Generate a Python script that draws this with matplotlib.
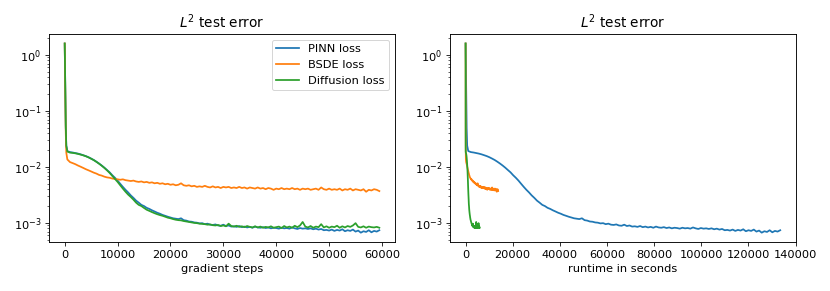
import matplotlib
matplotlib.use("Agg")
import matplotlib.pyplot as plt

# gradient steps at which the test error was logged
steps = [0, 100, 200, 300, 500] + list(range(1000, 60000, 500))

# L2 test error
pinn = [1.60, 0.30, 0.050, 0.024, 0.0192,
        0.0184, 0.0181, 0.0177, 0.0173, 0.0168, 0.0162, 0.0156, 0.0149, 0.0141, 0.0133,
        0.0124, 0.0115, 0.0106, 0.0097, 0.0088, 0.0080, 0.0071, 0.0064, 0.0057, 0.0050,
        0.0044, 0.0039, 0.0035, 0.0031, 0.0028, 0.0025, 0.0023, 0.0021, 0.00200, 0.00186,
        0.00178, 0.00168, 0.00160, 0.00152, 0.00146, 0.00139, 0.00134, 0.00129, 0.00125, 0.00121,
        0.00119, 0.00117, 0.00121, 0.00112, 0.00110, 0.00106, 0.00105, 0.00102, 0.00101, 0.00098,
        0.00099, 0.00095, 0.00097, 0.00093, 0.00092, 0.00094, 0.00090, 0.00089, 0.00093, 0.00088,
        0.00090, 0.00086, 0.00087, 0.00085, 0.00088, 0.00084, 0.00086, 0.00083, 0.00085, 0.00082,
        0.00086, 0.00083, 0.00082, 0.00084, 0.00081, 0.00083, 0.00080, 0.00082, 0.00081, 0.00079,
        0.00082, 0.00080, 0.00081, 0.00079, 0.00083, 0.00080, 0.00078, 0.00081, 0.00079, 0.00080,
        0.00078, 0.00080, 0.00077, 0.00079, 0.00076, 0.00078, 0.00074, 0.00075, 0.00073, 0.00076,
        0.00072, 0.00075, 0.00073, 0.00077, 0.00071, 0.00074, 0.00072, 0.00076, 0.00070, 0.00073,
        0.00067, 0.00071, 0.00069, 0.00074, 0.00068, 0.00072, 0.00070, 0.00074]

bsde = [1.60, 0.25, 0.040, 0.018, 0.0136,
        0.0122, 0.0117, 0.0112, 0.0106, 0.0101, 0.0096, 0.0091, 0.0087, 0.0083, 0.0079,
        0.0076, 0.0072, 0.0070, 0.0067, 0.0065, 0.0064, 0.0062, 0.0061, 0.0060, 0.0059,
        0.0060, 0.0058, 0.0057, 0.0056, 0.0057, 0.0055, 0.0054, 0.0055, 0.0053, 0.0054,
        0.0052, 0.0053, 0.0051, 0.0052, 0.0050, 0.0051, 0.0049, 0.0050, 0.0048, 0.0049,
        0.0047, 0.0048, 0.0051, 0.0047, 0.0046, 0.0047, 0.0045, 0.0046, 0.0044, 0.0045,
        0.0044, 0.0046, 0.0044, 0.0043, 0.0045, 0.0043, 0.0044, 0.0042, 0.0044, 0.0043,
        0.0044, 0.0042, 0.0043, 0.0042, 0.0044, 0.0042, 0.0043, 0.0041, 0.0043, 0.0042,
        0.0041, 0.0043, 0.0041, 0.0042, 0.0040, 0.0042, 0.0041, 0.0039, 0.0041, 0.0040,
        0.0042, 0.0040, 0.0041, 0.0040, 0.0042, 0.0040, 0.0041, 0.0039, 0.0041, 0.0040,
        0.0041, 0.0039, 0.0040, 0.0041, 0.0039, 0.0043, 0.0040, 0.0039, 0.0041, 0.0039,
        0.0040, 0.0039, 0.0041, 0.0038, 0.0040, 0.0039, 0.0041, 0.0038, 0.0040, 0.0039,
        0.0038, 0.0040, 0.0036, 0.0039, 0.0038, 0.0040, 0.0039, 0.0037]

diffusion = [1.60, 0.32, 0.055, 0.024, 0.0188,
             0.0180, 0.0178, 0.0175, 0.0171, 0.0166, 0.0161, 0.0155, 0.0148, 0.0140, 0.0132,
             0.0123, 0.0114, 0.0105, 0.0096, 0.0087, 0.0078, 0.0069, 0.0061, 0.0054, 0.0047,
             0.0041, 0.0036, 0.0032, 0.0029, 0.0026, 0.0023, 0.0021, 0.0020, 0.00185, 0.00172,
             0.00164, 0.00156, 0.00149, 0.00143, 0.00138, 0.00134, 0.00129, 0.00124, 0.00121, 0.00117,
             0.00114, 0.00112, 0.00111, 0.00108, 0.00106, 0.00104, 0.00102, 0.00100, 0.00099, 0.00097,
             0.00096, 0.00095, 0.00093, 0.00094, 0.00091, 0.00090, 0.00092, 0.00088, 0.00090, 0.00087,
             0.00097, 0.00088, 0.00086, 0.00089, 0.00085, 0.00087, 0.00084, 0.00088, 0.00085, 0.00083,
             0.00087, 0.00083, 0.00086, 0.00082, 0.00085, 0.00083, 0.00087, 0.00082, 0.00084, 0.00086,
             0.00081, 0.00088, 0.00083, 0.00086, 0.00082, 0.00089, 0.00084, 0.00090, 0.00104, 0.00086,
             0.00083, 0.00088, 0.00082, 0.00086, 0.00084, 0.00095, 0.00083, 0.00087, 0.00082, 0.00086,
             0.00084, 0.00089, 0.00082, 0.00087, 0.00083, 0.00088, 0.00085, 0.00090, 0.00099, 0.00085,
             0.00083, 0.00087, 0.00082, 0.00086, 0.00084, 0.00083, 0.00085, 0.00082]

labels = ["PINN loss", "BSDE loss", "Diffusion loss"]
# wall-clock seconds per gradient step for each method
sec_per_step = [2.244, 0.232, 0.100]

# reference was drawn a bit larger than 72 dpi, scale text/lines up
plt.rcParams.update({
    "font.size": 11.4,
    "lines.linewidth": 1.75,
    "axes.linewidth": 0.9,
    "xtick.major.size": 4, "ytick.major.size": 4,
    "xtick.minor.size": 2.3, "ytick.minor.size": 2.3,
})

fig = plt.figure(figsize=(830 / 72, 291 / 72), dpi=72)
ax1 = fig.add_axes([0.059, 0.168, 0.417, 0.715])
ax2 = fig.add_axes([0.542, 0.168, 0.417, 0.715])

for errs, lab, sps in zip([pinn, bsde, diffusion], labels, sec_per_step):
    ax1.plot(steps, errs, label=lab)
    ax2.plot([s * sps for s in steps], errs, label=lab)

for ax in (ax1, ax2):
    ax.set_yscale("log")
    ax.set_title("$L^2$ test error")

ax1.set_xlabel("gradient steps")
ax2.set_xlabel("runtime in seconds")
ax1.legend(loc="upper right")

fig.savefig("out.png", dpi=72)
